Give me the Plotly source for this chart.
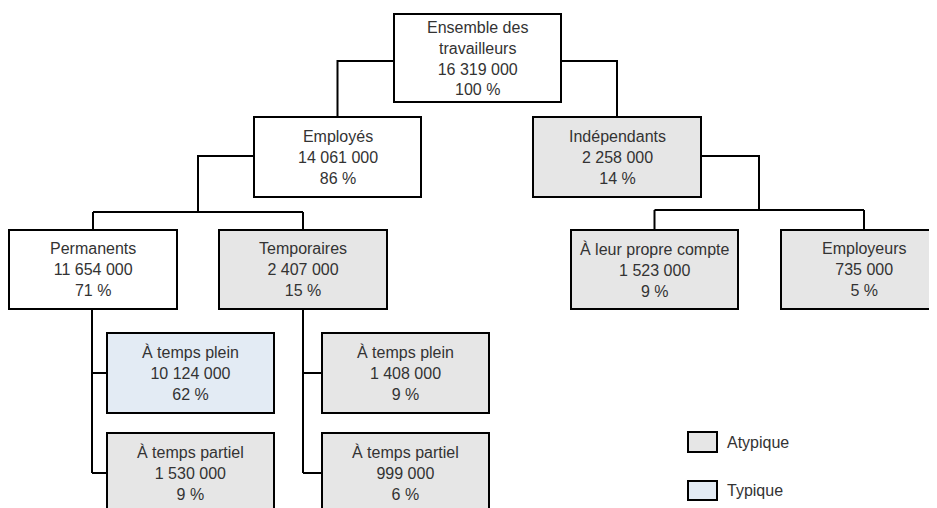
import plotly.graph_objects as go

# ---------------- data ----------------
labels = ["Ensemble des<br>travailleurs", "Employés", "Indépendants",
          "Permanents", "Temporaires", "À leur propre compte", "Employeurs",
          "À temps plein", "À temps partiel", "À temps plein", "À temps partiel"]
counts = [16319000, 14061000, 2258000, 11654000, 2407000, 1523000, 735000,
          10124000, 1530000, 1408000, 999000]
percents = [100, 86, 14, 71, 15, 9, 5, 62, 9, 9, 6]
kinds = ["total", "total", "Atypique", "total", "Atypique", "Atypique", "Atypique",
         "Typique", "Atypique", "Atypique", "Atypique"]
parents = [None, 0, 0, 1, 1, 2, 2, 3, 3, 4, 4]
legend_items = ["Atypique", "Typique"]

# ---------------- layout (positions / styles) ----------------
W, H = 937, 508
PAGE_OFF = 8  # default page body margin; the figure fills the rest of the window
boxes = [(394, 561, 14, 102), (254, 421, 117, 197), (533, 701, 117, 197),
         (9, 177, 230, 309), (219, 387, 230, 309), (571, 738, 230, 309),
         (781, 935, 230, 309), (107, 274, 333, 413), (107, 274, 433, 513),
         (322, 489, 333, 413), (322, 489, 433, 513)]
text_cx = {6: 864}
link_style = {
    0: dict(kind="elbow", y=61),
    1: dict(kind="bus", side="left", y=156, stem_x=198, bus_y=212),
    2: dict(kind="bus", side="right", y=156, stem_x=759, bus_y=210),
    3: dict(kind="side", x=92),
    4: dict(kind="side", x=303),
}
fills = {"total": "#ffffff", "Atypique": "#e6e6e6", "Typique": "#e3ebf4"}
LINE = "#000000"
TXT = "#333333"
FONT = "Liberation Sans, Arial, sans-serif"

def fmt(n):
    return f"{n:,}".replace(",", " ")

def cx(i):
    x0, x1, _, _ = boxes[i]
    return text_cx.get(i, (x0 + x1) / 2)

def cy(i):
    _, _, y0, y1 = boxes[i]
    return (y0 + y1) / 2

shapes = []
def seg(pts):
    d = "M " + " L ".join(f"{x},{y}" for x, y in pts)
    shapes.append(dict(type="path", path=d, xref="x", yref="y",
                       line=dict(color=LINE, width=2)))

children = {}
for i, p in enumerate(parents):
    if p is not None:
        children.setdefault(p, []).append(i)

for p, ch in children.items():
    st = link_style[p]
    px0, px1, py0, py1 = boxes[p]
    if st["kind"] == "elbow":
        for c in ch:
            side = px0 if cx(c) < cx(p) else px1
            seg([(side, st["y"]), (cx(c), st["y"]), (cx(c), boxes[c][2])])
    elif st["kind"] == "bus":
        side = px0 if st["side"] == "left" else px1
        seg([(side, st["y"]), (st["stem_x"], st["y"]), (st["stem_x"], st["bus_y"])])
        xs = [cx(c) for c in ch]
        seg([(min(xs), st["bus_y"]), (max(xs), st["bus_y"])])
        for c in ch:
            seg([(cx(c), st["bus_y"]), (cx(c), boxes[c][2])])
    else:
        vx = st["x"]
        seg([(vx, py1), (vx, cy(ch[-1]))])
        for c in ch:
            seg([(vx, cy(c)), (boxes[c][0], cy(c))])

annotations = []
for i, lab in enumerate(labels):
    x0, x1, y0, y1 = boxes[i]
    shapes.append(dict(type="rect", xref="x", yref="y", x0=x0, x1=x1, y0=y0, y1=y1,
                       fillcolor=fills[kinds[i]], line=dict(color=LINE, width=2)))
    annotations.append(dict(x=cx(i), y=cy(i), xref="x", yref="y",
                            text=f"{lab}<br>{fmt(counts[i])}<br>{percents[i]} %",
                            showarrow=False, xanchor="center", yanchor="middle",
                            align="center", font=dict(family=FONT, size=16, color=TXT)))

leg_pos = [(688, 717, 432, 452), (688, 717, 481, 500)]
for name, (x0, x1, y0, y1) in zip(legend_items, leg_pos):
    shapes.append(dict(type="rect", xref="x", yref="y", x0=x0, x1=x1, y0=y0, y1=y1,
                       fillcolor=fills[name], line=dict(color=LINE, width=2)))
    annotations.append(dict(x=x1 + 8, y=(y0 + y1) / 2, xref="x", yref="y", text=name,
                            showarrow=False, xanchor="left", yanchor="middle",
                            font=dict(family=FONT, size=16, color=TXT)))

fig = go.Figure()
fig.update_layout(
    width=W - PAGE_OFF, height=H - PAGE_OFF, margin=dict(l=0, r=0, t=0, b=0),
    paper_bgcolor="white", plot_bgcolor="white",
    xaxis=dict(range=[PAGE_OFF, W], visible=False, fixedrange=True),
    yaxis=dict(range=[H, PAGE_OFF], visible=False, fixedrange=True),
    shapes=shapes, annotations=annotations, showlegend=False,
)
fig.write_html("out.html")
